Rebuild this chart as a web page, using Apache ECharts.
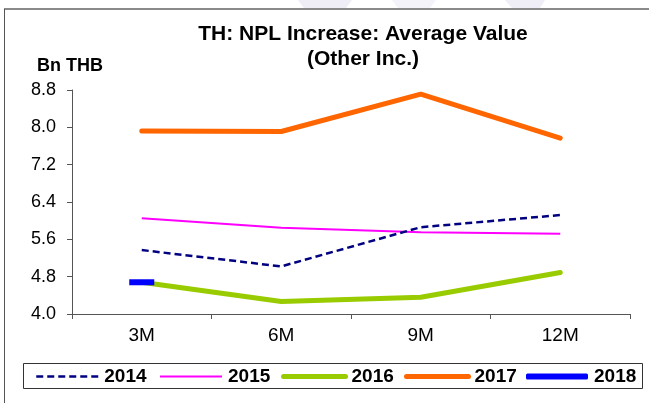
<!DOCTYPE html>
<html>
<head>
<meta charset="utf-8">
<script src="https://cdn.jsdelivr.net/npm/echarts@6/dist/echarts.min.js"></script>
<style>
  html, body { margin: 0; padding: 0; background: #fff; }
  #chart { width: 649px; height: 403px; }
</style>
</head>
<body>
<div id="chart"></div>
<script>
// Average NPL increase (Other Inc.), Bn THB, by loan age
const categories = ['3M', '6M', '9M', '12M'];
const y2014 = [5.37, 5.02, 5.86, 6.12];
const y2015 = [6.05, 5.85, 5.75, 5.72];
const y2016 = [4.68, 4.27, 4.36, 4.89];
const y2017 = [7.92, 7.91, 8.71, 7.77];
const y2018 = [4.68, null, null, null];
const yTicks = { min: 4.0, max: 8.8, step: 0.8 };

const FONT = 'Arial, "Liberation Sans", sans-serif';

const chart = echarts.init(document.getElementById('chart'));

// one legend block per series so each entry sits at its own spot
function legendAt(name, left, lineWidth, extra) {
  return Object.assign({
    data: [name],
    left: left,
    top: 367,
    itemWidth: 62,
    itemHeight: 6,
    itemGap: 0,
    padding: 0,
    selectedMode: false,
    itemStyle: { opacity: 0 },
    lineStyle: { width: lineWidth },
    textStyle: { fontFamily: FONT, fontSize: 19, fontWeight: 'bold', color: '#000', padding: [0, 0, 0, 1] }
  }, extra || {});
}

chart.setOption({
  animation: false,
  backgroundColor: '#fff',
  grid: { left: 72, right: 19, top: 90, bottom: 89, containLabel: false },
  graphic: [
    // outer frame
    { type: 'line', shape: { x1: 4, y1: 9, x2: 649, y2: 9 }, style: { stroke: '#8a8a8a', lineWidth: 2 } },
    { type: 'line', shape: { x1: 4.5, y1: 9, x2: 4.5, y2: 403 }, style: { stroke: '#555', lineWidth: 1 } },
    // faint backdrop shapes above the frame
    { type: 'polygon', shape: { points: [[298, 0], [352, 0], [346, 8], [304, 8]] }, style: { fill: '#efeef7' } },
    { type: 'polygon', shape: { points: [[392, 0], [436, 0], [430, 8], [398, 8]] }, style: { fill: '#f4f3fa' } },
    { type: 'polygon', shape: { points: [[505, 0], [545, 0], [540, 8], [512, 8]] }, style: { fill: '#efeef7' } },
    // title
    { type: 'text', x: 363, y: 34, style: { text: 'TH: NPL Increase: Average Value', align: 'center', verticalAlign: 'middle', font: 'bold 21px ' + FONT, fill: '#000' } },
    { type: 'text', x: 363, y: 59, style: { text: '(Other Inc.)', align: 'center', verticalAlign: 'middle', font: 'bold 21px ' + FONT, fill: '#000' } },
    // unit
    { type: 'text', x: 37, y: 66, style: { text: 'Bn THB', align: 'left', verticalAlign: 'middle', font: 'bold 18px ' + FONT, fill: '#000' } },
    // legend frame
    { type: 'rect', shape: { x: 23.5, y: 363.5, width: 619, height: 25 }, style: { fill: 'none', stroke: '#333', lineWidth: 1 } }
  ],
  legend: [
    legendAt('2014', 35, 2.5),
    legendAt('2015', 159, 2),
    legendAt('2016', 281, 5),
    legendAt('2017', 404, 5),
    legendAt('2018', 526, 6, { data: [{ name: '2018', icon: 'roundRect', itemStyle: { color: '#0000ff', opacity: 1 } }] })
  ],
  xAxis: {
    type: 'category',
    data: categories,
    boundaryGap: true,
    axisLine: { lineStyle: { color: '#555', width: 1 } },
    axisTick: { show: true, length: 5, inside: false, lineStyle: { color: '#555' } },
    axisLabel: { fontFamily: FONT, fontSize: 19, color: '#000', margin: 12 },
    splitLine: { show: false }
  },
  yAxis: {
    type: 'value',
    min: yTicks.min,
    max: yTicks.max,
    interval: yTicks.step,
    axisLine: { show: true, lineStyle: { color: '#555', width: 1 } },
    axisTick: { show: true, length: 5, inside: false, lineStyle: { color: '#555' } },
    axisLabel: { fontFamily: FONT, fontSize: 18, color: '#000', margin: 16, formatter: v => v.toFixed(1) },
    splitLine: { show: false }
  },
  series: [
    { name: '2014', type: 'line', data: y2014, symbol: 'none', z: 3,
      lineStyle: { color: '#000080', width: 2.5, type: [7, 4] }, itemStyle: { color: '#000080' } },
    { name: '2015', type: 'line', data: y2015, symbol: 'none', z: 2,
      lineStyle: { color: '#ff00ff', width: 2 }, itemStyle: { color: '#ff00ff' } },
    { name: '2016', type: 'line', data: y2016, symbol: 'none', z: 2,
      lineStyle: { color: '#99cc00', width: 5, cap: 'round', join: 'round' }, itemStyle: { color: '#99cc00' } },
    { name: '2017', type: 'line', data: y2017, symbol: 'none', z: 2,
      lineStyle: { color: '#ff6600', width: 5, cap: 'round', join: 'round' }, itemStyle: { color: '#ff6600' } },
    { name: '2018', type: 'line', data: y2018, symbol: 'rect', symbolSize: [25, 6], showSymbol: true, z: 4,
      lineStyle: { color: '#0000ff', width: 6 }, itemStyle: { color: '#0000ff' } }
  ]
});
</script>
</body>
</html>
